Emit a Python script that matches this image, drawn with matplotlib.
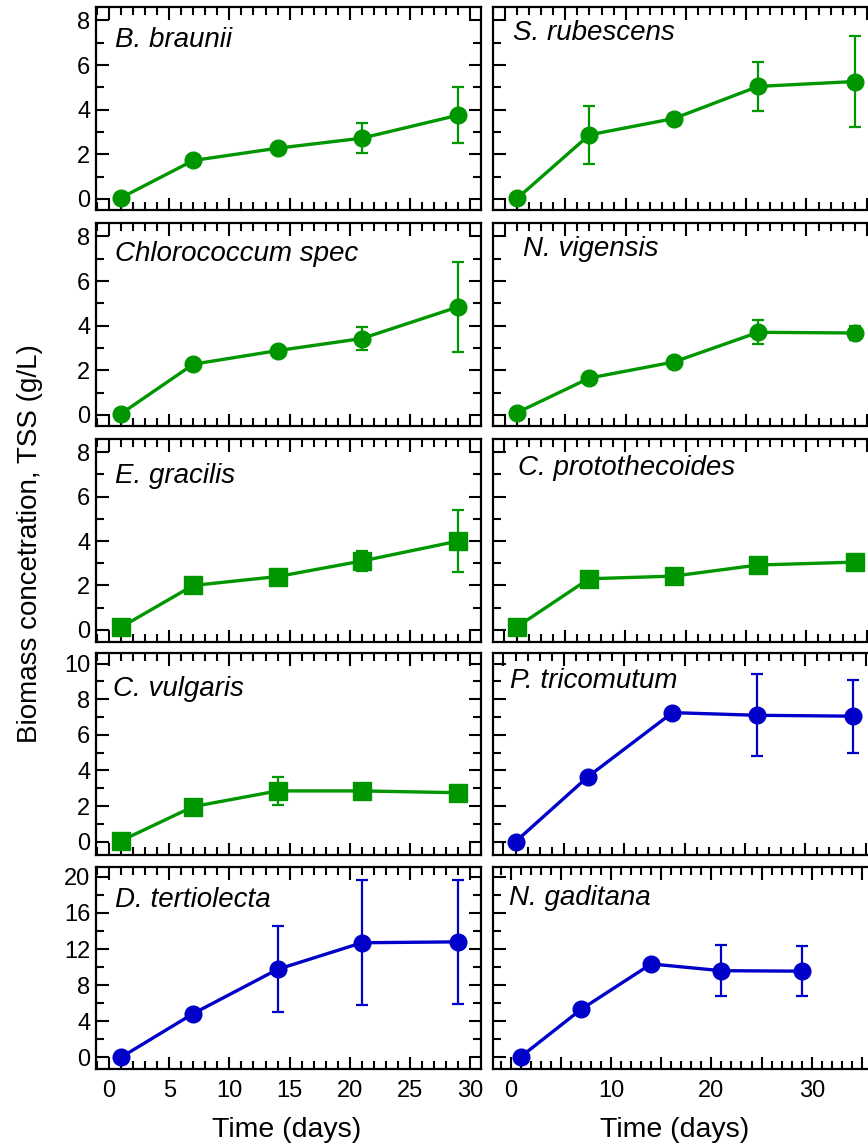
import matplotlib
matplotlib.use('Agg')
import matplotlib.pyplot as plt
from matplotlib.ticker import MultipleLocator, FuncFormatter

plt.rcParams['font.family'] = ['Liberation Sans', 'DejaVu Sans']

# sampling days
days = [1, 7, 14, 21, 29]

# biomass (g/L) mean and error per species
b_braunii = [0.05, 1.72, 2.27, 2.72, 3.75]
b_braunii_err = [0.05, 0.1, 0.1, 0.66, 1.26]
s_rubescens = [0.02, 2.87, 3.6, 5.04, 5.26]
s_rubescens_err = [0.05, 1.29, 0.22, 1.09, 2.05]
chlorococcum = [0.05, 2.27, 2.88, 3.42, 4.84]
chlorococcum_err = [0.05, 0.12, 0.12, 0.5, 2.03]
n_vigensis = [0.1, 1.65, 2.37, 3.7, 3.67]
n_vigensis_err = [0.05, 0.12, 0.12, 0.54, 0.3]
e_gracilis = [0.12, 2.0, 2.4, 3.1, 4.0]
e_gracilis_err = [0.05, 0.1, 0.15, 0.45, 1.4]
c_protothecoides = [0.12, 2.3, 2.42, 2.92, 3.05]
c_protothecoides_err = [0.05, 0.1, 0.1, 0.15, 0.2]
c_vulgaris = [0.05, 1.97, 2.85, 2.85, 2.75]
c_vulgaris_err = [0.05, 0.1, 0.8, 0.15, 0.1]
p_tricomutum = [0.0, 3.65, 7.25, 7.1, 7.05]
p_tricomutum_err = [0.05, 0.1, 0.1, 2.3, 2.05]
d_tertiolecta = [0.0, 4.85, 9.75, 12.7, 12.8]
d_tertiolecta_err = [0.05, 0.2, 4.76, 6.95, 6.9]
n_gaditana = [0.05, 5.3, 10.35, 9.6, 9.55]
n_gaditana_err = [0.05, 0.2, 0.2, 2.8, 2.8]

green = '#009600'
blue = '#0000c8'

# (label, mean, err, colour, marker, row, col)
panels = [
    ('B. braunii', b_braunii, b_braunii_err, green, 'o', 0, 0),
    ('S. rubescens', s_rubescens, s_rubescens_err, green, 'o', 0, 1),
    ('Chlorococcum spec', chlorococcum, chlorococcum_err, green, 'o', 1, 0),
    ('N. vigensis', n_vigensis, n_vigensis_err, green, 'o', 1, 1),
    ('E. gracilis', e_gracilis, e_gracilis_err, green, 's', 2, 0),
    ('C. protothecoides', c_protothecoides, c_protothecoides_err, green, 's', 2, 1),
    ('C. vulgaris', c_vulgaris, c_vulgaris_err, green, 's', 3, 0),
    ('P. tricomutum', p_tricomutum, p_tricomutum_err, blue, 'o', 3, 1),
    ('D. tertiolecta', d_tertiolecta, d_tertiolecta_err, blue, 'o', 4, 0),
    ('N. gaditana', n_gaditana, n_gaditana_err, blue, 'o', 4, 1),
]

W, H = 868, 1144
fig = plt.figure(figsize=(W / 100, H / 100), dpi=100)

rows_px = [(7, 210), (223, 426), (439, 642), (653, 855), (867, 1069)]
cols_px = [(96, 385), (493, 387)]
ylims = [(-0.5, 8.6), (-0.5, 8.6), (-0.55, 8.6), (-0.75, 10.6), (-1.3, 21.1)]
ymaj = [2, 2, 2, 2, 4]
xlims = {(0, 1): (-1.0, 31.1), (1, 1): (-1.0, 31.1), (2, 1): (-0.95, 31.1),
         (3, 1): (-0.87, 31.2), (4, 1): (-1.76, 36.8)}
# label offsets from top-left corner, pixels (x, baseline)
lab_off = {(0, 0): (19, 40), (1, 0): (19, 38), (2, 0): (19, 44), (3, 0): (17, 43), (4, 0): (19, 40),
           (0, 1): (20, 33), (1, 1): (30, 33), (2, 1): (25, 36), (3, 1): (17, 35), (4, 1): (16, 38)}

for name, mean, err, color, marker, r, c in panels:
    top, bot = rows_px[r]
    x0, w = cols_px[c]
    ax = fig.add_axes([x0 / W, 1 - bot / H, w / W, (bot - top) / H])
    ax.errorbar(days, mean, yerr=err, color=color, marker=marker,
                markersize=12 if marker == 'o' else 12.5, lw=2.4, elinewidth=1.6,
                capsize=4.2, capthick=1.6, clip_on=False, zorder=3)
    ax.set_xlim(xlims.get((r, c), (-1.08, 30.9)))
    ax.set_ylim(ylims[r])
    ax.yaxis.set_major_locator(MultipleLocator(ymaj[r]))
    ax.yaxis.set_minor_locator(MultipleLocator(ymaj[r] / 2))
    ax.xaxis.set_major_locator(MultipleLocator(5))
    ax.xaxis.set_minor_locator(MultipleLocator(1))
    ax.tick_params(which='both', direction='in', top=True, right=True, width=1.5,
                   labelsize=17)
    ax.tick_params(which='major', length=9)
    ax.tick_params(which='minor', length=5.5)
    ax.tick_params(axis='x', pad=8)
    ax.tick_params(axis='y', pad=4)
    for s in ax.spines.values():
        s.set_linewidth(1.6)
    if c == 1:
        ax.tick_params(labelleft=False)
    if r < 4:
        ax.tick_params(labelbottom=False)
    if (r, c) == (4, 1):
        ax.xaxis.set_major_formatter(FuncFormatter(
            lambda v, p: f'{int(round(v))}' if round(v) % 10 == 0 else ''))
    dx, dy = lab_off[(r, c)]
    ax.annotate(name, xy=(0, 1), xycoords='axes fraction', xytext=(dx * 0.72, -dy * 0.72),
                textcoords='offset points', ha='left', va='baseline',
                fontsize=20, style='italic')

fig.text(287 / W, 1 - 1137 / H, 'Time (days)', ha='center', va='baseline', fontsize=20.5)
fig.text(675 / W, 1 - 1137 / H, 'Time (days)', ha='center', va='baseline', fontsize=20.5)
fig.text(30 / W, 1 - 544 / H, 'Biomass concetration, TSS (g/L)', rotation=90,
         ha='center', va='center', fontsize=20)

fig.savefig('out.png', dpi=100)
